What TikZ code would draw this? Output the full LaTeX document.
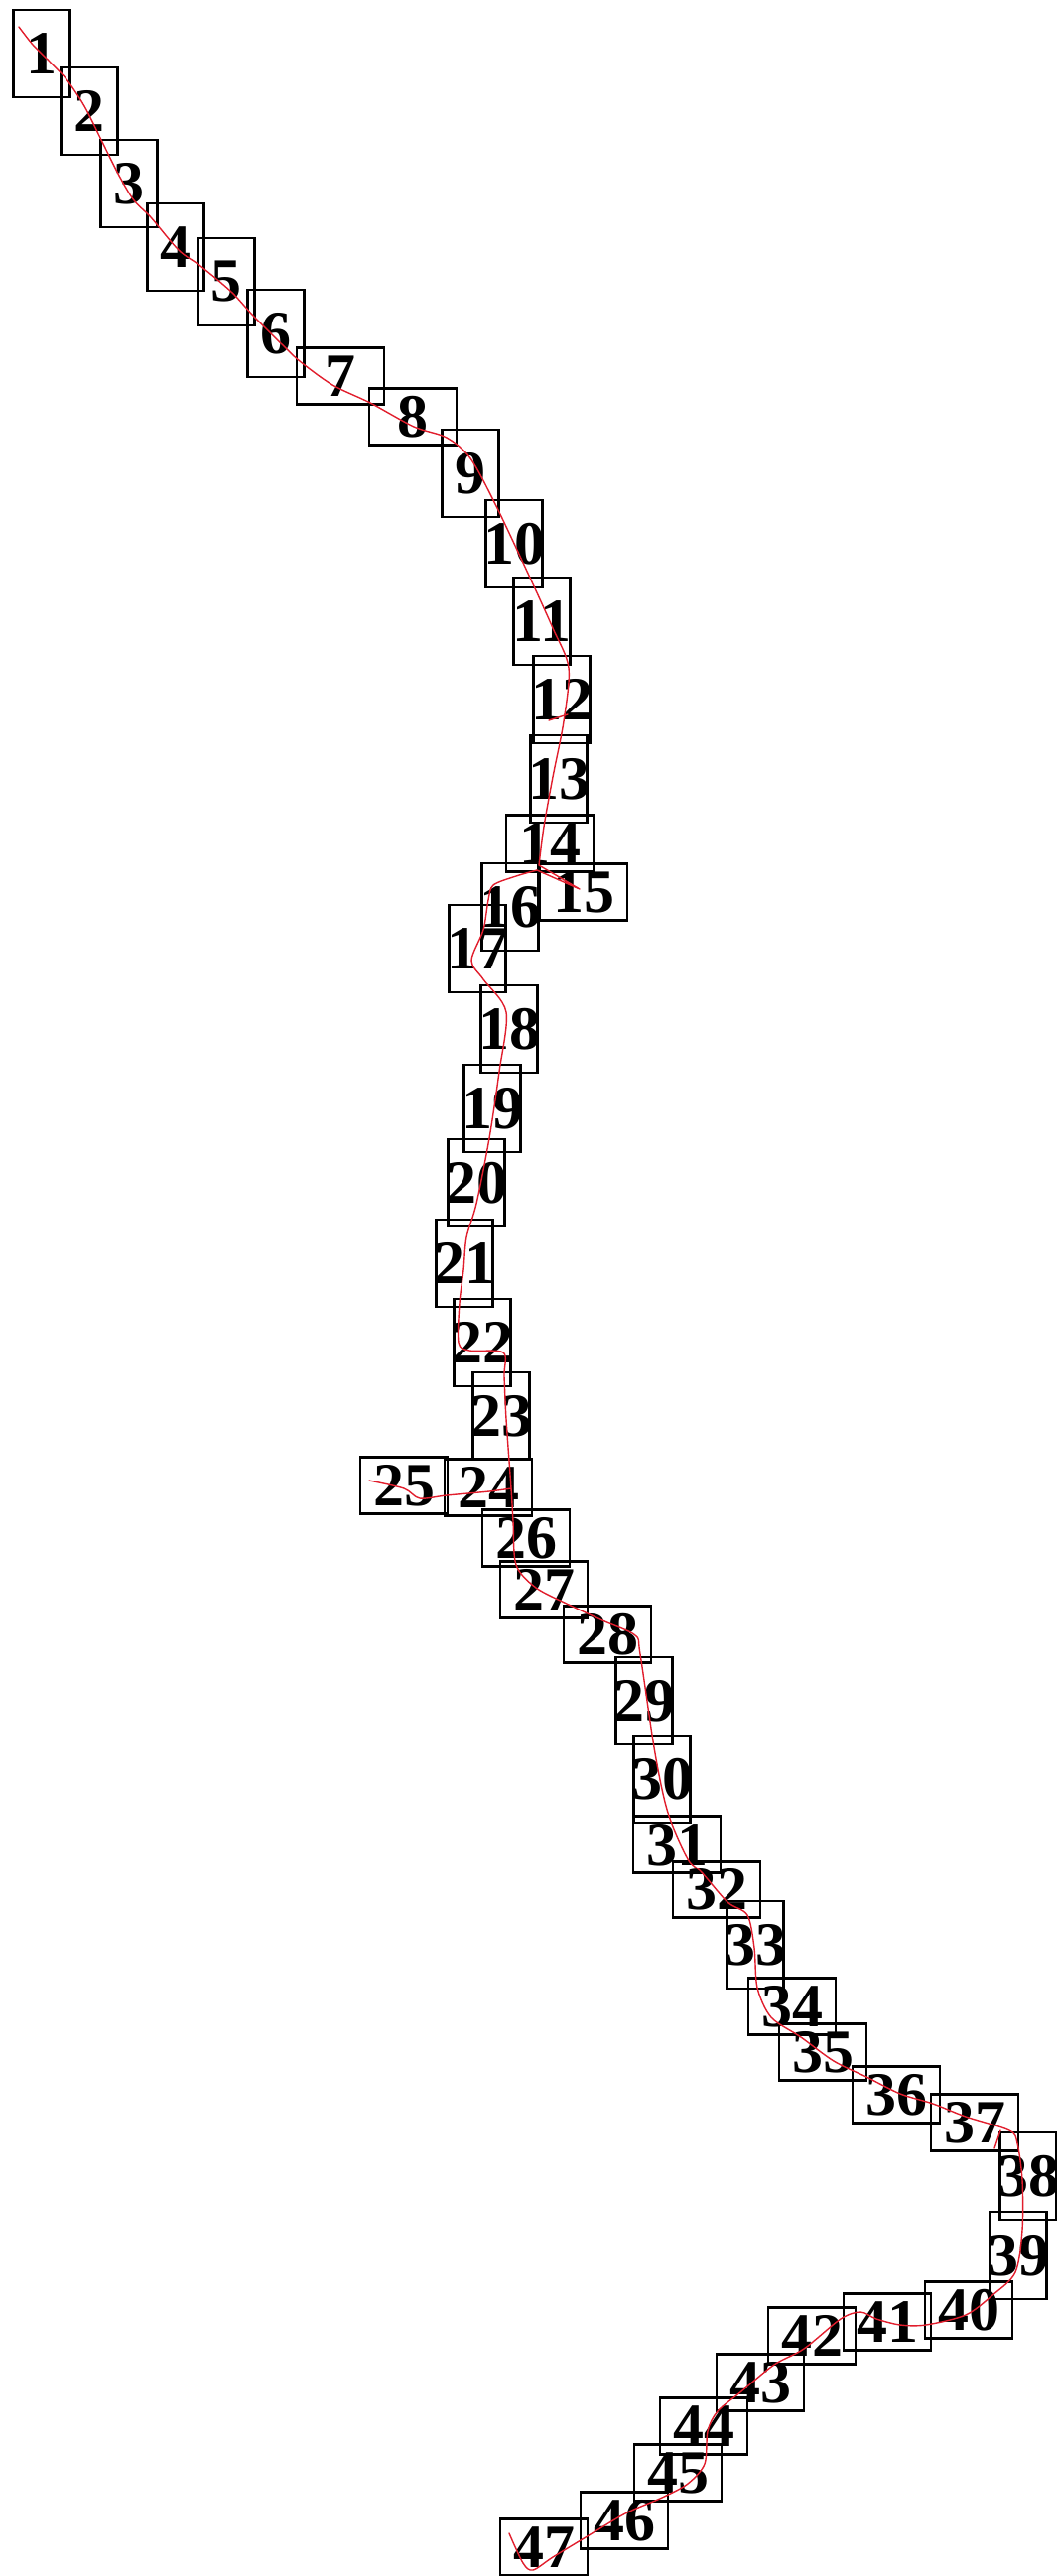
\documentclass[tikz,border=0pt]{standalone}
\usepackage{fontspec}
\setmainfont{Liberation Serif}
\usepackage{xcolor}
\usepackage{tikz}
\definecolor{trackred}{RGB}{225,30,45}

\begin{document}
\begin{tikzpicture}[
    x=1pt, y=-1pt,
    tallnode/.style={rectangle, draw=black, line width=2.9pt, minimum width=57pt, minimum height=88pt, inner xsep=-4pt, inner ysep=0pt, font=\fontsize{62}{62}\selectfont\bfseries},
    widenode/.style={tallnode, minimum width=88pt, minimum height=57pt},
    track/.style={draw=trackred, line width=1.4pt, line join=round, line cap=round}
]
    \useasboundingbox (0,0) rectangle (1065,2596);

    % Nodes
    \node (box1) [tallnode] at (42,54) {1};
    \node (box2) [tallnode] at (90,112) {2};
    \node (box3) [tallnode] at (130,185) {3};
    \node (box4) [tallnode] at (177,249) {4};
    \node (box5) [tallnode] at (228,284) {5};
    \node (box6) [tallnode] at (278,336) {6};
    \node (box7) [widenode] at (343,379) {7};
    \node (box8) [widenode] at (416,420) {8};
    \node (box9) [tallnode] at (474,477) {9};
    \node (box10) [tallnode] at (518,548) {10};
    \node (box11) [tallnode] at (546,626) {11};
    \node (box12) [tallnode] at (566,705) {12};
    \node (box13) [tallnode] at (563,785) {13};
    \node (box14) [widenode] at (554,850) {14};
    \node (box15) [widenode] at (588,899) {15};
    \node (box16) [tallnode] at (514,914) {16};
    \node (box17) [tallnode] at (481,956) {17};
    \node (box18) [tallnode] at (513,1037) {18};
    \node (box19) [tallnode] at (496,1117) {19};
    \node (box20) [tallnode] at (480,1192) {20};
    \node (box21) [tallnode] at (468,1273) {21};
    \node (box22) [tallnode] at (486,1353) {22};
    \node (box23) [tallnode] at (505,1427) {23};
    \node (box24) [widenode] at (492,1499) {24};
    \node (box25) [widenode] at (407,1497) {25};
    \node (box26) [widenode] at (530,1550) {26};
    \node (box27) [widenode] at (548,1602) {27};
    \node (box28) [widenode] at (612,1647) {28};
    \node (box29) [tallnode] at (649,1714) {29};
    \node (box30) [tallnode] at (667,1793) {30};
    \node (box31) [widenode] at (682,1859) {31};
    \node (box32) [widenode] at (722,1904) {32};
    \node (box33) [tallnode] at (761,1960) {33};
    \node (box34) [widenode] at (798,2022) {34};
    \node (box35) [widenode] at (829,2068) {35};
    \node (box36) [widenode] at (903,2111) {36};
    \node (box37) [widenode] at (982,2139) {37};
    \node (box38) [tallnode] at (1036,2193) {38};
    \node (box39) [tallnode] at (1026,2273) {39};
    \node (box40) [widenode] at (976,2328) {40};
    \node (box41) [widenode] at (894,2340) {41};
    \node (box42) [widenode] at (818,2354) {42};
    \node (box43) [widenode] at (766,2401) {43};
    \node (box44) [widenode] at (709,2445) {44};
    \node (box45) [widenode] at (683,2492) {45};
    \node (box46) [widenode] at (629,2540) {46};
    \node (box47) [widenode] at (548,2567) {47};

    % Track
    \draw [track] plot [smooth] coordinates {(19,27) (33,45) (50,62) (67,80) (85,107) (103,143) (120,177) (135,202) (152,219) (180,252) (202,268) (233,294) (255,318) (283,346) (302,364) (335,388) (373,406) (417,430) (450,441) (474,462) (500,510) (533,580) (557,633) (573,673) (568,727) (557,783) (548,833) (543,872)}
        -- (584,896) -- (541,877);
    \draw [track] plot [smooth] coordinates {(541,877) (520,883) (497,892) (492,907) (487,937) (475,968) (487,987) (510,1020) (503,1080) (493,1147) (480,1213) (470,1247) (467,1280) (463,1313) (462,1353) (473,1361) (507,1363) (508,1387) (510,1430) (515,1500) (517,1533) (520,1577) (540,1600) (573,1617) (607,1633) (640,1648) (645,1667) (660,1767) (673,1827) (693,1873) (707,1887) (733,1917) (753,1930) (760,1963) (763,2003) (777,2033) (807,2053) (840,2077) (873,2093) (907,2110) (940,2120) (973,2133) (1017,2147) (1025,2160) (1030,2197) (1030,2247) (1023,2290) (1000,2313) (973,2333) (933,2343) (907,2343) (883,2337) (867,2330) (847,2337) (810,2367) (780,2383) (747,2410) (723,2430) (713,2450) (710,2483) (693,2503) (667,2517) (630,2533) (590,2557) (557,2577) (537,2590) (527,2583) (513,2553)};
    \draw [track] plot [smooth] coordinates {(515,1500) (493,1503) (450,1507) (423,1510) (407,1500) (372,1492)};
    \draw [track] (553,726) -- (572,720);
    \draw [track] (1002,2165) -- (1008,2147);

\end{tikzpicture}
\end{document}
